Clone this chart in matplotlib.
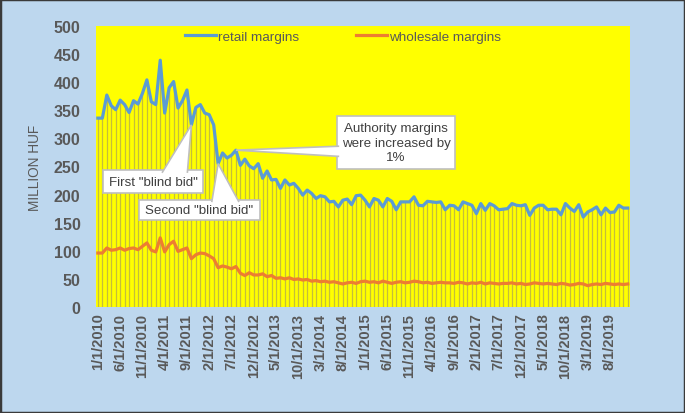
import numpy as np
import pandas as pd
import matplotlib
matplotlib.use("Agg")
import matplotlib.pyplot as plt
from matplotlib.patches import Rectangle, Polygon

plt.rcParams['font.family'] = ['Liberation Sans', 'DejaVu Sans']

# monthly values, Jan 2010 .. Dec 2019 (million HUF)
months = pd.date_range('2010-01-01', periods=120, freq='MS')
month_labels = [f"{d.month}/1/{d.year}" for d in months]

retail = [
    336, 336, 377, 358, 351, 368, 360, 346, 367, 361, 380, 404, 365, 360, 439,
    345, 390, 401, 354, 367, 386, 324, 355, 360, 345, 342, 324, 255,
    274, 265, 270, 279, 252, 263, 251, 246, 255, 229, 242, 226, 227, 211, 226,
    217, 220, 211, 199, 208, 202, 193, 198, 196, 187, 188, 178, 190, 192, 182, 198,
    199, 190, 178, 193, 190, 178, 193, 188, 173, 187, 187, 187, 196, 181, 180,
    188, 187, 186, 187, 173, 181, 180, 173, 187, 184, 181, 166, 184, 172, 184, 180,
    173, 174, 175, 184, 181, 180, 182, 163, 176, 181, 181, 173, 174, 174, 164,
    184, 176, 170, 182, 160, 169, 173, 178, 164, 176, 168, 169, 181, 176, 176,
]
wholesale = [
    96, 96, 105, 101, 102, 105, 101, 104, 105, 102, 108, 114, 101, 98, 123,
    98, 111, 117, 99, 102, 105, 86, 93, 96, 95, 91, 86, 70, 73, 71, 68,
    72, 60, 56, 61, 57, 57, 59, 54, 56, 51, 52, 50, 52, 49, 50, 48, 49, 46, 47,
    45, 46, 44, 45, 43, 41, 43, 44, 42, 45, 46, 44,
    45, 43, 46, 44, 42, 44, 45, 43, 44, 46, 45, 43, 44, 42, 43, 44, 43, 43, 42,
    44, 43, 41, 43, 42, 44, 41, 43, 42, 41, 42,
    42, 43, 41, 42, 40, 41, 43, 42, 41, 42, 41, 40, 42, 41, 39, 40, 42, 41, 38,
    40, 41, 40, 42, 41, 40, 41, 40, 41, 40,
]
retail = retail[:120]
wholesale = wholesale[:120]

callout_texts = ['First "blind bid"', 'Second "blind bid"',
                 'Authority margins\nwere increased by\n1%']
callout_months = [21, 27, 31]

# callout layout (data units): box (x0, x1, y0, y1), wedge base (two points)
callout_boxes = [(1.2, 23.7, 202, 243), (9.3, 36.3, 154, 190), (53.6, 80.3, 246, 339)]
callout_bases = [((14.5, 240), (20.1, 240)),
                 ((25.6, 188), (31.6, 188)),
                 ((54.0, 286), (54.0, 268))]

grey = '#595959'
edge = '#BFBFBF'
x = np.arange(len(retail))

fig = plt.figure(figsize=(6.85, 4.14), dpi=100, facecolor='#BDD7EE')
fig.patches.append(Rectangle((0, 0), 1, 1, transform=fig.transFigure,
                             fill=False, ec='#3a3a3a', lw=2.5, zorder=10))
ax = fig.add_axes([0.140, 0.256, 0.780, 0.679])
ax.set_facecolor('#FFFF00')

# drop lines from the retail series
ax.vlines(x, 0, retail, color='#C4BE3A', lw=0.9, zorder=1)
ax.plot(x, retail, color='#5B9BD5', lw=2.3, label='retail margins', zorder=3)
ax.plot(x, wholesale, color='#ED7D31', lw=2.3, label='wholesale margins', zorder=3)

ax.set_xlim(-0.45, 119.55)
ax.set_ylim(0, 500)
ax.set_yticks(np.arange(0, 501, 50))
ax.set_xticks(x[::5])
ax.set_xticklabels(month_labels[::5], rotation=90, fontsize=10.5,
                   fontweight='bold', color=grey)
for t in ax.get_yticklabels():
    t.set_fontsize(11.5)
    t.set_fontweight('bold')
    t.set_color(grey)
ax.tick_params(axis='both', length=0)
ax.tick_params(axis='y', pad=11)
ax.tick_params(axis='x', pad=4)
for s in ax.spines.values():
    s.set_visible(False)

ax.set_ylabel('MILLION HUF', fontsize=9.8, color=grey)
ax.yaxis.set_label_coords(-0.101, 0.5)

ax.legend(loc='upper center', bbox_to_anchor=(0.462, 1.026), ncol=2, frameon=False,
          fontsize=9.7, labelcolor=grey, handlelength=2.3, columnspacing=4.2,
          handletextpad=0.15)

# callouts: white box plus white wedge pointing at the data point
for label, idx, (x0, x1, y0, y1), (b1, b2) in zip(callout_texts, callout_months,
                                                   callout_boxes, callout_bases):
    tip = (x[idx], retail[idx])
    ax.add_patch(Rectangle((x0, y0), x1 - x0, y1 - y0, fc='white', ec=edge,
                           lw=1.2, zorder=5))
    ax.add_patch(Polygon([tip, b1, b2], closed=True, fc='white', ec='none',
                         zorder=6))
    ax.plot([b1[0], tip[0], b2[0]], [b1[1], tip[1], b2[1]], color=edge,
            lw=1.2, zorder=6, solid_joinstyle='miter')
    ax.text((x0 + x1) / 2, (y0 + y1) / 2, label, ha='center', va='center',
            fontsize=9.6, color='#404040', zorder=7, linespacing=1.3)

fig.savefig('out.png', dpi=100, facecolor=fig.get_facecolor())
